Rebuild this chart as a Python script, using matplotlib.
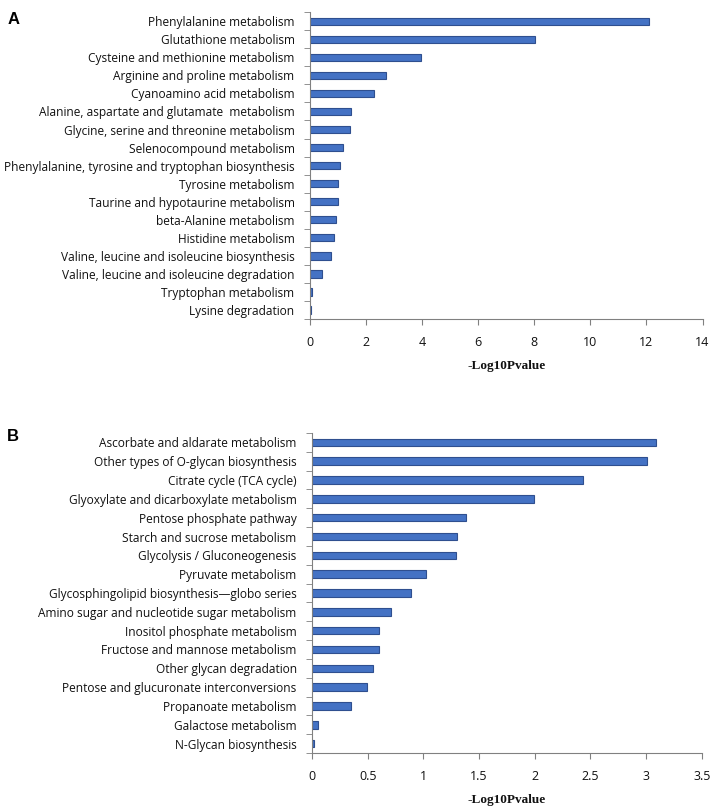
import matplotlib
matplotlib.use("Agg")
import matplotlib.pyplot as plt
import numpy as np

# ── Data ───────────────────────────────────────────────────
paths_a = ["Phenylalanine metabolism", "Glutathione metabolism",
           "Cysteine and methionine metabolism", "Arginine and proline metabolism",
           "Cyanoamino acid metabolism", "Alanine, aspartate and glutamate  metabolism",
           "Glycine, serine and threonine metabolism", "Selenocompound metabolism",
           "Phenylalanine, tyrosine and tryptophan biosynthesis", "Tyrosine metabolism",
           "Taurine and hypotaurine metabolism", "beta-Alanine metabolism",
           "Histidine metabolism", "Valine, leucine and isoleucine biosynthesis",
           "Valine, leucine and isoleucine degradation", "Tryptophan metabolism",
           "Lysine degradation"]
vals_a = [12.1, 8.03, 3.95, 2.73, 2.29, 1.48, 1.44, 1.17, 1.07, 1.0, 1.0,
          0.93, 0.85, 0.75, 0.44, 0.07, 0.03]
ticks_a = [0, 2, 4, 6, 8, 10, 12, 14]

paths_b = ["Ascorbate and aldarate metabolism", "Other types of O-glycan biosynthesis",
           "Citrate cycle (TCA cycle)", "Glyoxylate and dicarboxylate metabolism",
           "Pentose phosphate pathway", "Starch and sucrose metabolism",
           "Glycolysis / Gluconeogenesis", "Pyruvate metabolism",
           "Glycosphingolipid biosynthesis\u2014globo series",
           "Amino sugar and nucleotide sugar metabolism",
           "Inositol phosphate metabolism", "Fructose and mannose metabolism",
           "Other glycan degradation", "Pentose and glucuronate interconversions",
           "Propanoate metabolism", "Galactose metabolism", "N-Glycan biosynthesis"]
vals_b = [3.09, 3.01, 2.43, 1.99, 1.38, 1.30, 1.29, 1.02, 0.89, 0.71, 0.60,
          0.60, 0.55, 0.49, 0.35, 0.054, 0.018]
ticks_b = [0, 0.5, 1, 1.5, 2, 2.5, 3, 3.5]
tick_labels_b = ["0", "0.5", "1", "1.5", "2", "2.5", "3", "3.5"]

BAR = "#4472C4"; EDGE = "#2F4F8F"; AXIS = "#808080"; TXT = "#111111"

fig = plt.figure(figsize=(7.14, 8.10), dpi=100)
ax_a = fig.add_axes([0.434, 0.606, 0.550, 0.379])
ax_b = fig.add_axes([0.437, 0.0704, 0.546, 0.395])


def draw(ax, names, vals, ticks, tlabels):
    n = len(names)
    y = np.arange(n)
    ax.barh(y, vals, height=0.4, color=BAR, edgecolor=EDGE, linewidth=0.8)
    ax.set_ylim(n - 0.5, -0.5)
    ax.set_xlim(ticks[0], ticks[-1])
    ax.set_yticks(y)
    ax.set_yticklabels(names, fontsize=8.6, family="Open Sans", color=TXT)
    ax.set_yticks(np.arange(n + 1) - 0.5, minor=True)
    ax.tick_params(axis="y", which="major", length=0, pad=11)
    ax.tick_params(axis="y", which="minor", length=4, color=AXIS, direction="out")
    ax.set_xticks(ticks)
    ax.set_xticklabels(tlabels, fontsize=9, family="Open Sans", color=TXT)
    ax.tick_params(axis="x", length=4, color=AXIS, direction="out", pad=8)
    for s in ["top", "right"]:
        ax.spines[s].set_visible(False)
    for s in ["left", "bottom"]:
        ax.spines[s].set_color(AXIS)
    ax.set_xlabel("-Log10Pvalue", fontsize=9.5, family="Liberation Serif",
                  fontweight="bold", color=TXT, labelpad=8)


draw(ax_a, paths_a, vals_a, ticks_a, [str(t) for t in ticks_a])
draw(ax_b, paths_b, vals_b, ticks_b, tick_labels_b)

fig.text(0.010, 0.985, "A", fontsize=12, fontweight="bold", va="top", family="Liberation Sans")
fig.text(0.010, 0.4705, "B", fontsize=12, fontweight="bold", va="top", family="Liberation Sans")

plt.savefig("out.png", dpi=100, facecolor="white")
plt.close()
